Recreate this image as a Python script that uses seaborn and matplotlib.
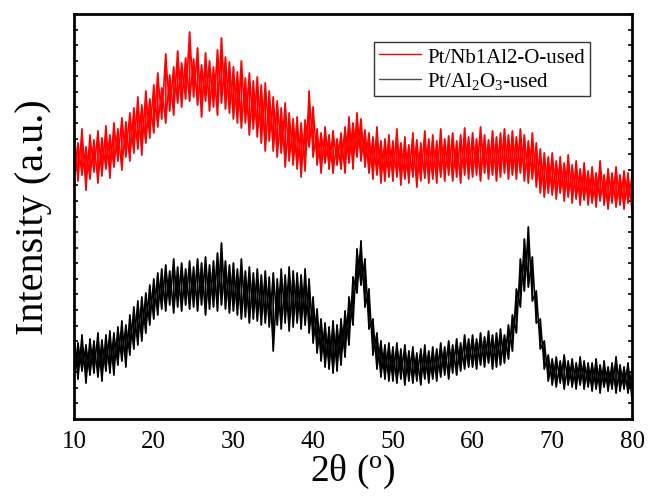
import numpy as np
import pandas as pd
import matplotlib
matplotlib.use("Agg")
import matplotlib.pyplot as plt
import seaborn as sns
from matplotlib.ticker import MultipleLocator
from matplotlib.lines import Line2D

# 2theta grid (degrees), 0.5 deg steps
two_theta = [10 + 0.5 * i for i in range(141)]

# Pt/Nb1Al2-O-used: upper / lower edges of the noisy trace (a.u.)
nb_hi = [282, 276, 290, 272, 284, 279, 288, 281, 293, 284,
         296, 290, 301, 297, 306, 311, 322, 314, 328, 320,
         334, 346, 331, 365, 344, 352, 368, 356, 361, 387,
         360, 371, 354, 366, 358, 352, 369, 381, 362, 357,
         352, 347, 358, 341, 346, 338, 342, 334, 336, 328,
         322, 318, 311, 316, 306, 300, 302, 296, 299, 328,
         312, 290, 286, 292, 284, 288, 280, 286, 292, 302,
         296, 306, 300, 289, 286, 282, 292, 278, 280, 284,
         278, 290, 276, 282, 274, 286, 279, 276, 288, 280,
         284, 278, 290, 280, 283, 286, 278, 284, 291, 282,
         286, 280, 292, 284, 279, 288, 282, 286, 290, 284,
         288, 282, 290, 284, 278, 286, 276, 270, 266, 262,
         266, 258, 262, 256, 264, 254, 258, 250, 256, 248,
         252, 246, 258, 244, 250, 246, 252, 244, 248, 246,
         244]
nb_lo = [246, 238, 244, 229, 240, 247, 236, 243, 250, 241,
         252, 258, 249, 262, 258, 266, 270, 264, 276, 281,
         286, 292, 300, 296, 308, 304, 316, 312, 320, 318,
         322, 314, 302, 318, 308, 312, 304, 316, 310, 306,
         300, 296, 291, 296, 284, 290, 282, 276, 268, 278,
         268, 262, 266, 252, 258, 254, 250, 242, 248, 272,
         262, 254, 246, 256, 250, 246, 254, 250, 246, 256,
         250, 262, 258, 252, 246, 240, 244, 236, 238, 242,
         238, 242, 234, 240, 236, 242, 232, 238, 241, 236,
         240, 236, 242, 238, 244, 238, 242, 236, 244, 240,
         242, 244, 238, 246, 240, 244, 238, 242, 246, 240,
         244, 240, 246, 238, 236, 240, 232, 226, 222, 226,
         224, 220, 226, 218, 222, 216, 220, 214, 219, 214,
         216, 212, 218, 214, 210, 216, 212, 214, 210, 216,
         208]

# Pt/Al2O3-used: upper / lower edges of the noisy trace (a.u.)
al_hi = [82, 76, 84, 74, 80, 78, 86, 79, 84, 88,
         86, 92, 98, 94, 104, 112, 118, 122, 126, 134,
         140, 146, 150, 154, 148, 160, 152, 156, 150, 158,
         152, 160, 156, 162, 154, 158, 166, 176, 158, 154,
         156, 150, 160, 148, 152, 146, 150, 144, 148, 142,
         146, 140, 150, 144, 152, 148, 146, 144, 150, 140,
         122, 110, 100, 96, 92, 98, 94, 100, 108, 122,
         142, 170, 178, 160, 130, 100, 86, 78, 74, 76,
         72, 76, 70, 74, 68, 72, 66, 70, 74, 68,
         72, 70, 76, 72, 78, 74, 80, 76, 84, 80,
         84, 80, 86, 82, 88, 84, 86, 90, 84, 94,
         104, 130, 160, 180, 192, 162, 128, 100, 78, 64,
         60, 62, 58, 64, 58, 60, 56, 62, 58, 56,
         56, 60, 54, 58, 52, 56, 62, 54, 52, 56,
         50]
al_lo = [44, 40, 48, 36, 44, 46, 42, 38, 48, 46,
         44, 54, 58, 52, 64, 70, 74, 78, 86, 94,
         100, 104, 110, 108, 114, 106, 112, 108, 114, 110,
         112, 108, 114, 104, 110, 112, 108, 114, 110, 106,
         108, 104, 100, 102, 96, 100, 98, 94, 96, 92,
         68, 94, 90, 96, 88, 92, 96, 90, 94, 86,
         76, 66, 58, 52, 50, 46, 48, 54, 62, 74,
         94, 126, 134, 112, 90, 64, 50, 42, 40, 38,
         38, 36, 40, 34, 38, 36, 38, 34, 40, 36,
         40, 38, 42, 44, 40, 46, 44, 48, 50, 52,
         52, 50, 54, 52, 56, 50, 52, 54, 56, 60,
         68, 86, 112, 128, 132, 118, 96, 70, 50, 38,
         34, 32, 36, 30, 34, 32, 30, 34, 30, 32,
         28, 30, 26, 32, 28, 30, 26, 28, 30, 26,
         20]

series_names = ["Pt/Nb1Al2-O-used", "Pt/Al$_2$O$_3$-used"]
series_colors = ["#ff0000", "#000000"]
x_ticks = [10, 20, 30, 40, 50, 60, 70, 80]


def trace(name, hi, lo):
    # two zig-zag passes through the read upper/lower edges of the noise band
    rows = []
    for unit, first_low in ((0, True), (1, False)):
        for x, h, l in zip(two_theta, hi, lo):
            pair = (l, h) if first_low else (h, l)
            for v in pair:
                rows.append((x, v, unit))
    df = pd.DataFrame(rows, columns=["two_theta", "intensity", "unit"])
    df["sample"] = name
    return df


df_nb = trace(series_names[0], nb_hi, nb_lo)
df_al = trace(series_names[1], al_hi, al_lo)

sns.set_theme(style="white")
plt.rcParams["font.family"] = ["Liberation Serif", "DejaVu Serif"]
plt.rcParams["mathtext.fontset"] = "custom"
plt.rcParams["mathtext.rm"] = "Liberation Serif"
plt.rcParams["mathtext.it"] = "Liberation Serif:italic"
for key in ["text.color", "axes.labelcolor", "xtick.color", "ytick.color"]:
    plt.rcParams[key] = "black"

fig = plt.figure(figsize=(6.48, 5.02), dpi=100)
ax = fig.add_axes([74 / 648, 82 / 502, 558 / 648, 405 / 502])

for df, col in [(df_al, series_colors[1]), (df_nb, series_colors[0])]:
    sns.lineplot(data=df, x="two_theta", y="intensity", units="unit",
                 estimator=None, sort=False, color=col, linewidth=1.1,
                 ax=ax, legend=False)

ax.set_xlim(10, 80)
ax.set_ylim(0, 405)
ax.set_xticks(x_ticks)
ax.set_xticklabels([str(t) for t in x_ticks])
ax.xaxis.set_minor_locator(MultipleLocator(5))
ax.yaxis.set_major_locator(MultipleLocator(405 / 26))
ax.set_yticklabels([])

ax.tick_params(axis="x", which="major", direction="out", length=6, width=1.5,
               labelsize=18, pad=2, top=False)
ax.tick_params(axis="x", which="minor", direction="out", length=4, width=1.5,
               top=False)
ax.tick_params(axis="y", which="major", direction="in", length=3, width=1.2,
               left=True, right=True, labelleft=False)

for s in ax.spines.values():
    s.set_linewidth(2)
    s.set_color("black")

ax.set_xlabel("2θ ($^{\\mathrm{o}}$)", fontsize=27, labelpad=0)
ax.set_ylabel("Intensity (a.u.)", fontsize=29, labelpad=16)

handles = [Line2D([], [], color=series_colors[0], lw=1.0),
           Line2D([], [], color=series_colors[1], lw=1.0, alpha=0.7)]
leg = ax.legend(handles, series_names, loc="upper right",
                bbox_to_anchor=(0.925, 0.931), borderaxespad=0,
                fontsize=15, frameon=True, fancybox=False, handlelength=2.0,
                handletextpad=0.3, borderpad=0.25, labelspacing=0.15)
leg.get_frame().set_edgecolor("black")
leg.get_frame().set_linewidth(1.0)

fig.savefig("out.png", dpi=100)
